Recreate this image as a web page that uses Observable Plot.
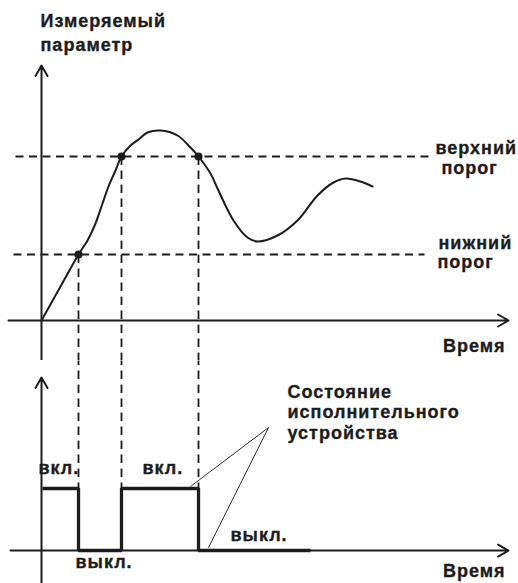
<!DOCTYPE html>
<html>
<head>
<meta charset="utf-8">
<script src="https://cdn.jsdelivr.net/npm/d3@7"></script>
<script src="https://cdn.jsdelivr.net/npm/@observablehq/plot@0.6"></script>
<style>
  html, body { margin: 0; padding: 0; background: #fff; }
  #chart { width: 518px; }
  #chart svg { display: block; }
  #chart text { letter-spacing: 1px; }
</style>
</head>
<body>
<div id="chart"></div>
<script>
// ---- Data (time t, measured value v; state s: 1 = вкл., 0 = выкл.) ----
const curveT = [0, 19, 37, 46, 54, 61, 67, 74, 80, 89, 97, 106, 119, 136, 149, 157, 169, 176, 192, 206, 216, 236, 256, 276, 292, 304, 319, 331];
const curveV = [0, 34, 66, 80, 97, 117, 134, 150, 164, 175, 181, 188, 190, 185, 173, 164, 147, 132, 100, 83, 79, 85, 100, 125, 138, 142, 139, 134];

const upperThreshold = 164;
const lowerThreshold = 66;

// crossing moments (time) and which threshold they hit
const crossT = [37, 80, 157];
const crossV = [lowerThreshold, upperThreshold, upperThreshold];

// actuator state steps
const stateT = [1, 37, 37, 80, 80, 157, 157, 269];
const stateS = [1, 1, 0, 0, 1, 1, 0, 0];

// labels
const yTitle = ["Измеряемый", "параметр"];
const upperLabel = ["верхний", "порог"];
const lowerLabel = ["нижний", "порог"];
const timeLabel = "Время";
const onLabel = "вкл.";
const offLabel = "выкл.";
const stateTitle = ["Состояние", "исполнительного", "устройства"];

// ---- styling ----
const INK = "#1c1c1c";
const FONT = "'Liberation Sans', Arial, Helvetica, sans-serif";
const FS = 18;
const W = 518;
const xDomain = [-41, 477];

const txt = (data, opts) => Plot.text(data, {
  fontFamily: FONT, fontSize: FS, fontWeight: "bold", fill: INK,
  stroke: INK, strokeWidth: 0.35,
  lineAnchor: "bottom", textAnchor: "start", ...opts
});

// ---- top panel ----
const curve = curveT.map((t, i) => ({t, v: curveV[i]}));
const crosses = crossT.map((t, i) => ({t, v: crossV[i]}));

const topPanel = Plot.plot({
  width: W, height: 360,
  margin: 0,
  x: {domain: xDomain, axis: null},
  y: {domain: [-40, 320], axis: null},
  marks: [
    Plot.link([{x1: -26, x2: 387, y: upperThreshold}, {x1: -28, x2: 383, y: lowerThreshold}], {
      x1: "x1", x2: "x2", y1: "y", y2: "y",
      stroke: INK, strokeWidth: 1.8, strokeDasharray: "8,5.5"
    }),
    Plot.link(crosses, {
      x1: "t", x2: "t", y1: "v", y2: () => -40,
      stroke: INK, strokeWidth: 1.8, strokeDasharray: "8.5,5.5"
    }),
    Plot.arrow([{x1: 0, y1: -40, x2: 0, y2: 255}], {
      x1: "x1", y1: "y1", x2: "x2", y2: "y2", stroke: INK, strokeWidth: 2, headLength: 9
    }),
    Plot.arrow([{x1: -33, y1: 0, x2: 467, y2: 0}], {
      x1: "x1", y1: "y1", x2: "x2", y2: "y2", stroke: INK, strokeWidth: 2, headLength: 9
    }),
    Plot.line(curve, {x: "t", y: "v", curve: "catmull-rom", stroke: INK, strokeWidth: 2}),
    Plot.dot(crosses, {x: "t", y: "v", r: 4, fill: INK, stroke: "none"}),
    txt([yTitle[0]], {x: () => -1, y: () => 294}),
    txt([yTitle[1]], {x: () => -1, y: () => 270}),
    txt([upperLabel[0]], {x: () => 394, y: () => 167}),
    txt([upperLabel[1]], {x: () => 400, y: () => 147}),
    txt([lowerLabel[0]], {x: () => 397, y: () => 72}),
    txt([lowerLabel[1]], {x: () => 396, y: () => 53}),
    txt([timeLabel], {x: () => 464, y: () => -31, textAnchor: "end"})
  ]
});

// ---- bottom panel ----
const state = stateT.map((t, i) => ({t, s: stateS[i]}));

const bottomPanel = Plot.plot({
  width: W, height: 223,
  margin: 0,
  x: {domain: xDomain, axis: null},
  y: {domain: [-0.532, 3.065], axis: null},
  marks: [
    Plot.link(crossT, {
      x1: d => d, x2: d => d, y1: () => 3.065, y2: () => 0,
      stroke: INK, strokeWidth: 1.8, strokeDasharray: "8.5,5.5", strokeDashoffset: 4
    }),
    Plot.arrow([{x1: 0, y1: -0.532, x2: 0, y2: 2.79}], {
      x1: "x1", y1: "y1", x2: "x2", y2: "y2", stroke: INK, strokeWidth: 2, headLength: 9
    }),
    Plot.arrow([{x1: -31, y1: 0, x2: 467, y2: 0}], {
      x1: "x1", y1: "y1", x2: "x2", y2: "y2", stroke: INK, strokeWidth: 2, headLength: 9
    }),
    Plot.line(state, {x: "t", y: "s", stroke: INK, strokeWidth: 3.3, strokeLinejoin: "miter", strokeLinecap: "butt"}),
    Plot.link([{x2: 149, y2: 1.032}, {x2: 167, y2: 0.048}], {
      x1: () => 227, y1: () => 1.984, x2: "x2", y2: "y2", stroke: INK, strokeWidth: 0.9
    }),
    txt([onLabel], {x: () => -3, y: () => 1.242}),
    txt([onLabel], {x: () => 101, y: () => 1.242}),
    txt([offLabel], {x: () => 34, y: () => -0.29}),
    txt([offLabel], {x: () => 189, y: () => 0.161}),
    txt([stateTitle[0]], {x: () => 246, y: () => 2.468}),
    txt([stateTitle[1]], {x: () => 246, y: () => 2.145}),
    txt([stateTitle[2]], {x: () => 246, y: () => 1.806}),
    txt([timeLabel], {x: () => 464, y: () => -0.435, textAnchor: "end"})
  ]
});

document.getElementById("chart").append(topPanel, bottomPanel);
</script>
</body>
</html>
